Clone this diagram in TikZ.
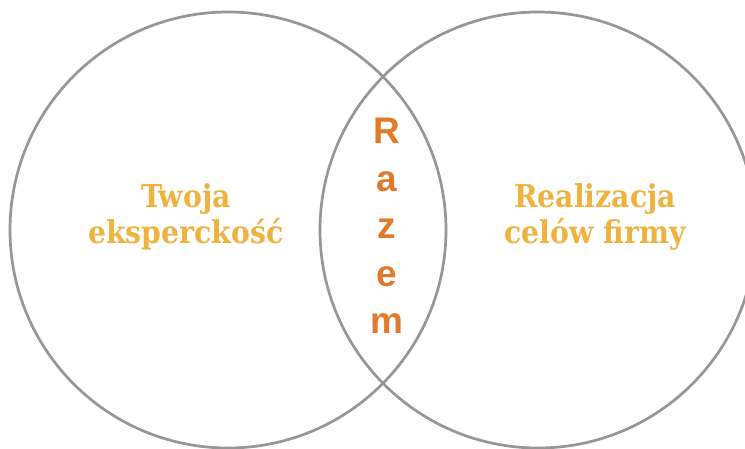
\documentclass[tikz,border=0pt]{standalone}
\usepackage{fontspec}
\setmainfont{DejaVu Serif Condensed}
\setsansfont{Liberation Sans}
\definecolor{ringgray}{RGB}{150,150,150}
\definecolor{goldtext}{RGB}{240,178,62}
\definecolor{razemorange}{RGB}{226,122,44}
\tikzset{
  ring/.style={circle, draw=ringgray, line width=2.7pt, minimum size=436pt, inner sep=0pt},
  goldlabel/.style={text=goldtext, font=\bfseries\fontsize{31.5}{36}\selectfont, align=center, inner sep=0pt},
  stacked/.style={text=razemorange, font=\sffamily\bfseries\fontsize{37}{47.5}\selectfont, align=center, inner sep=0pt}
}
\begin{document}
\begin{tikzpicture}[x=1pt, y=-1pt]
  \useasboundingbox (0,0) rectangle (745,449);
  \clip (0,0) rectangle (745,449);
  % two overlapping sets
  \node[ring] (leftset) at (228,230) {};
  \node[ring] (rightset) at (538,230) {};
  % set captions
  \node[goldlabel] (expertise) at (186,217) {Twoja\\eksperckość};
  \node[goldlabel] (goals) at (595,217) {Realizacja\\celów firmy};
  % vertical word in the overlap
  \node[stacked] (together) at (387,226) {R\\a\\z\\e\\m};
\end{tikzpicture}
\end{document}
